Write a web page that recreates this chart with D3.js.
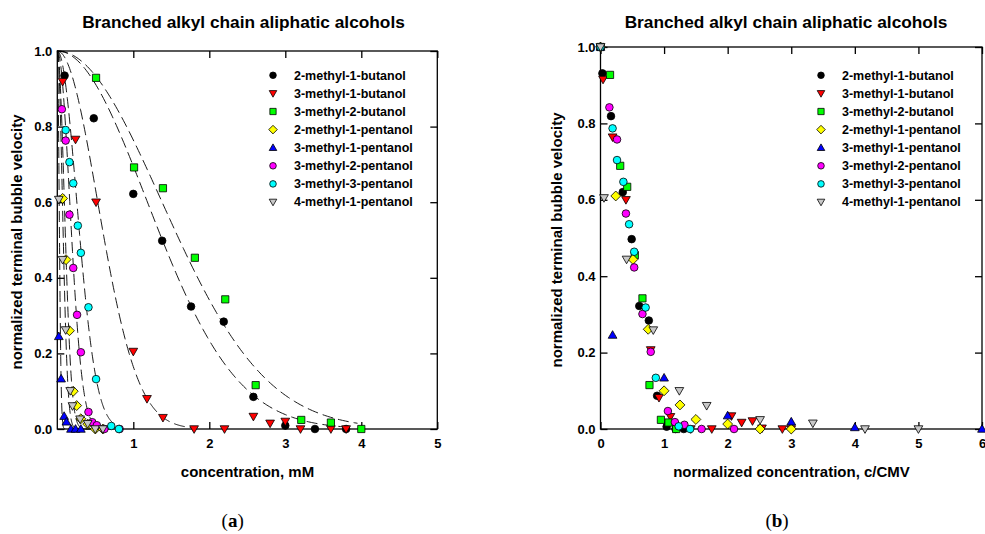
<!DOCTYPE html>
<html>
<head>
<meta charset="utf-8">
<script src="https://cdn.jsdelivr.net/npm/d3@7"></script>
<style>
  body { margin: 0; background: #fff; }
  svg { display: block; font-family: "Liberation Sans", Arial, sans-serif; }
</style>
</head>
<body>
<svg id="chart" width="985" height="534"></svg>
<script>
// Series (legend order = drawing order)
const seriesNames = [
  "2-methyl-1-butanol", "3-methyl-1-butanol", "3-methyl-2-butanol", "2-methyl-1-pentanol",
  "3-methyl-1-pentanol", "3-methyl-2-pentanol", "3-methyl-3-pentanol", "4-methyl-1-pentanol"
];
const seriesColors = ["#000000", "#ff0000", "#00ff00", "#ffff00", "#0000ff", "#ff00ff", "#00ffff", "#c8c8c8"];
const seriesSymbols = ["circle", "triDown", "square", "diamond", "triUp", "circle", "circle", "triDown"];

// Panel (a): concentration (mM) vs normalized terminal bubble velocity
const mm_2m1butanol = [[0.096,0.935],[0.48,0.822],[1.0,0.622],[1.38,0.498],[1.76,0.324],[2.19,0.284],[2.58,0.085],[3.0,0.009],[3.39,0],[3.8,0]];
const mm_3m1butanol = [[0.07,0.919],[0.24,0.766],[0.51,0.60],[1.0,0.205],[1.18,0.08],[1.39,0.03],[1.8,0],[2.2,0],[2.58,0.033],[2.8,0.015],[3.0,0.02],[3.2,0],[3.6,0],[3.8,0]];
const mm_3m2butanol = [[0.51,0.929],[1.01,0.692],[1.39,0.637],[1.81,0.453],[2.21,0.343],[2.61,0.116],[3.21,0.024],[3.6,0.017],[4.0,0]];
const mm_2m1pentanol = [[0.07,0.61],[0.115,0.448],[0.16,0.26],[0.21,0.10],[0.255,0.062],[0.31,0.027],[0.4,0.013],[0.5,0],[0.6,0]];
const mm_3m1pentanol = [[0.02,0.245],[0.05,0.133],[0.09,0.034],[0.12,0.019],[0.18,0],[0.24,0],[0.31,0]];
const mm_3m2pentanol = [[0.06,0.846],[0.11,0.763],[0.16,0.567],[0.21,0.426],[0.26,0.302],[0.31,0.203],[0.41,0.045],[0.46,0.018],[0.52,0.01],[0.62,0],[0.82,0]];
const mm_3m3pentanol = [[0.11,0.791],[0.16,0.706],[0.21,0.65],[0.27,0.538],[0.31,0.466],[0.41,0.322],[0.51,0.132],[0.71,0.008],[0.81,0]];
const mm_4m1pentanol = [[0.02,0.607],[0.07,0.448],[0.11,0.262],[0.17,0.101],[0.2,0.061],[0.3,0.026],[0.4,0.014],[0.5,0],[0.6,0]];

// Gaussian fit v = exp(-(c/w)^2) drawn as dashed lines in panel (a): width w (mM) and last concentration
const fitWidth = [1.66, 0.745, 1.93, 0.13, 0.035, 0.23, 0.36, 0.095];
const fitEnd = [3.8, 1.8, 3.95, 0.6, 0.3, 0.8, 0.85, 0.6];

// Panel (b): normalized concentration c/CMV vs normalized terminal bubble velocity
const n_2m1butanol = [[0,1],[0.03,0.931],[0.165,0.819],[0.35,0.62],[0.49,0.497],[0.61,0.322],[0.76,0.284],[0.89,0.087],[1.04,0.006],[1.18,0],[1.31,0]];
const n_3m1butanol = [[0,1],[0.04,0.915],[0.19,0.764],[0.40,0.60],[0.79,0.207],[0.92,0.082],[1.10,0.032],[1.42,0],[1.75,0],[2.06,0.034],[2.22,0.017],[2.39,0.021],[2.54,0.002],[2.86,0],[3.0,0]];
const n_3m2butanol = [[0,1],[0.15,0.927],[0.31,0.689],[0.42,0.634],[0.54,0.455],[0.66,0.342],[0.77,0.115],[0.95,0.024],[1.07,0.017],[1.19,0]];
const n_2m1pentanol = [[0,1],[0.24,0.61],[0.51,0.444],[0.75,0.261],[1.0,0.10],[1.25,0.063],[1.5,0.025],[2.0,0.013],[2.51,0],[3.0,0]];
const n_3m1pentanol = [[0,1],[0.19,0.246],[1.0,0.134],[2.0,0.035],[3.0,0.019],[4.0,0.004],[6.0,0]];
const n_3m2pentanol = [[0,1],[0.14,0.842],[0.26,0.758],[0.40,0.564],[0.53,0.423],[0.66,0.301],[0.79,0.202],[1.06,0.047],[1.17,0.018],[1.32,0.011],[1.59,0],[2.1,0]];
const n_3m3pentanol = [[0,1],[0.19,0.787],[0.26,0.704],[0.36,0.647],[0.45,0.536],[0.53,0.464],[0.71,0.318],[0.87,0.134],[1.23,0.007],[1.41,0]];
const n_4m1pentanol = [[0,1],[0.055,0.605],[0.41,0.444],[0.83,0.259],[1.24,0.10],[1.67,0.061],[2.51,0.024],[3.34,0.015],[4.16,0],[5.0,0]];

// Axis ticks
const xTicksA = [1, 2, 3, 4, 5];
const xTicksB = [0, 1, 2, 3, 4, 5, 6];
const yTicks = [0, 0.2, 0.4, 0.6, 0.8, 1.0];

const panelAData = [mm_2m1butanol, mm_3m1butanol, mm_3m2butanol, mm_2m1pentanol, mm_3m1pentanol, mm_3m2pentanol, mm_3m3pentanol, mm_4m1pentanol];
const panelBData = [n_2m1butanol, n_3m1butanol, n_3m2butanol, n_2m1pentanol, n_3m1pentanol, n_3m2pentanol, n_3m3pentanol, n_4m1pentanol];

const svg = d3.select("#chart");

function symbolPath(type, r) {
  if (type === "circle") {
    return `M${r},0A${r},${r} 0 1,1 ${-r},0A${r},${r} 0 1,1 ${r},0Z`;
  }
  if (type === "square") {
    const h = r * 0.95;
    return `M${-h},${-h}L${h},${-h}L${h},${h}L${-h},${h}Z`;
  }
  if (type === "diamond") {
    const h = r * 1.3;
    return `M0,${-h}L${h},0L0,${h}L${-h},0Z`;
  }
  const w = r * 1.15, t = r * 1.15, b = r * 0.85;
  if (type === "triUp") return `M0,${-t}L${w},${b}L${-w},${b}Z`;
  return `M0,${t}L${w},${-b}L${-w},${-b}Z`; // triDown
}

function drawPanel(opt) {
  const x = d3.scaleLinear().domain(opt.xDomain).range([opt.left, opt.right]);
  const y = d3.scaleLinear().domain([0, 1]).range([opt.bottom, opt.top]);
  const g = svg.append("g");

  // fitted curves
  if (opt.fits) {
    const line = d3.line().x(d => x(d[0])).y(d => y(d[1]));
    opt.fits.forEach(f => {
      const pts = d3.range(0, 201).map(i => {
        const c = f.end * i / 200;
        return [c, Math.exp(-Math.pow(c / f.width, 2))];
      });
      g.append("path").attr("d", line(pts))
        .attr("fill", "none").attr("stroke", "#000").attr("stroke-width", 0.9)
        .attr("stroke-dasharray", "11,5");
    });
  }

  // frame
  g.append("rect")
    .attr("x", opt.left).attr("y", opt.top)
    .attr("width", opt.right - opt.left).attr("height", opt.bottom - opt.top)
    .attr("fill", "none").attr("stroke", "#000").attr("stroke-width", 1.3);

  // axes with inward ticks
  const styleAxis = sel => {
    sel.select(".domain").remove();
    sel.selectAll(".tick line").attr("stroke", "#000").attr("stroke-width", 1.3);
    sel.selectAll(".tick text").attr("fill", "#000")
      .style("font-size", "13px").style("font-weight", "bold")
      .style("font-family", "'Liberation Sans', Arial, sans-serif");
  };
  g.append("g").attr("transform", `translate(0,${opt.bottom})`)
    .call(d3.axisBottom(x).tickValues(opt.xTicks).tickFormat(d3.format("d"))
      .tickSizeInner(-7).tickSizeOuter(0).tickPadding(10))
    .call(styleAxis);
  g.append("g").attr("transform", `translate(0,${opt.top})`)
    .call(d3.axisTop(x).tickValues(opt.xTicks).tickFormat("")
      .tickSizeInner(-7).tickSizeOuter(0))
    .call(styleAxis);
  g.append("g").attr("transform", `translate(${opt.left},0)`)
    .call(d3.axisLeft(y).tickValues(yTicks).tickFormat(d3.format(".1f"))
      .tickSizeInner(-7).tickSizeOuter(0).tickPadding(5))
    .call(styleAxis);
  g.append("g").attr("transform", `translate(${opt.right},0)`)
    .call(d3.axisRight(y).tickValues(yTicks).tickFormat("")
      .tickSizeInner(-7).tickSizeOuter(0))
    .call(styleAxis);

  // data markers
  opt.data.forEach((pts, i) => {
    g.append("g").selectAll("path").data(pts).join("path")
      .attr("d", symbolPath(seriesSymbols[i], 3.8))
      .attr("transform", d => `translate(${x(d[0])},${y(d[1])})`)
      .attr("fill", seriesColors[i]).attr("stroke", "#000").attr("stroke-width", 0.8);
  });

  // legend
  const lg = g.append("g");
  seriesNames.forEach((name, i) => {
    const yy = opt.legendY + i * 18.1;
    lg.append("path").attr("d", symbolPath(seriesSymbols[i], 3.3))
      .attr("transform", `translate(${opt.legendX},${yy})`)
      .attr("fill", seriesColors[i]).attr("stroke", "#000").attr("stroke-width", 0.8);
    lg.append("text").attr("x", opt.legendX + 21).attr("y", yy).attr("dy", "0.35em")
      .style("font-size", "12.5px").style("font-weight", "bold").text(name);
  });

  // titles
  g.append("text").attr("x", opt.titleX).attr("y", 28).attr("text-anchor", "middle")
    .style("font-size", "17.3px").style("font-weight", "bold")
    .text("Branched alkyl chain aliphatic alcohols");
  g.append("text").attr("x", opt.xLabelX).attr("y", 477).attr("text-anchor", "middle")
    .style("font-size", "15px").style("font-weight", "bold").text(opt.xLabel);
  g.append("text")
    .attr("transform", `translate(${opt.yLabelX},${(opt.top + opt.bottom) / 2 + 2}) rotate(-90)`)
    .attr("text-anchor", "middle").attr("dy", "0.35em")
    .style("font-size", "15px").style("font-weight", "bold")
    .text("normalized terminal bubble velocity");

  const cap = g.append("text").attr("x", opt.capX).attr("y", 527).attr("text-anchor", "middle")
    .style("font-family", "'Liberation Serif', 'Times New Roman', serif").style("font-size", "19px");
  cap.append("tspan").text("(");
  cap.append("tspan").style("font-weight", "bold").text(opt.cap);
  cap.append("tspan").text(")");
}

drawPanel({
  xDomain: [0, 5], left: 57.3, right: 437.3, top: 51, bottom: 429,
  xTicks: xTicksA, data: panelAData,
  fits: fitWidth.map((w, i) => ({ width: w, end: fitEnd[i] })),
  legendX: 273, legendY: 75.3,
  titleX: 243.5, xLabelX: 247.5, xLabel: "concentration, mM", yLabelX: 16.5,
  capX: 232.7, cap: "a"
});

drawPanel({
  xDomain: [0, 6], left: 600.5, right: 982, top: 47, bottom: 429,
  xTicks: xTicksB, data: panelBData, fits: null,
  legendX: 821, legendY: 75.3,
  titleX: 786, xLabelX: 791.5, xLabel: "normalized concentration, c/CMV", yLabelX: 557,
  capX: 777, cap: "b"
});
</script>
</body>
</html>
